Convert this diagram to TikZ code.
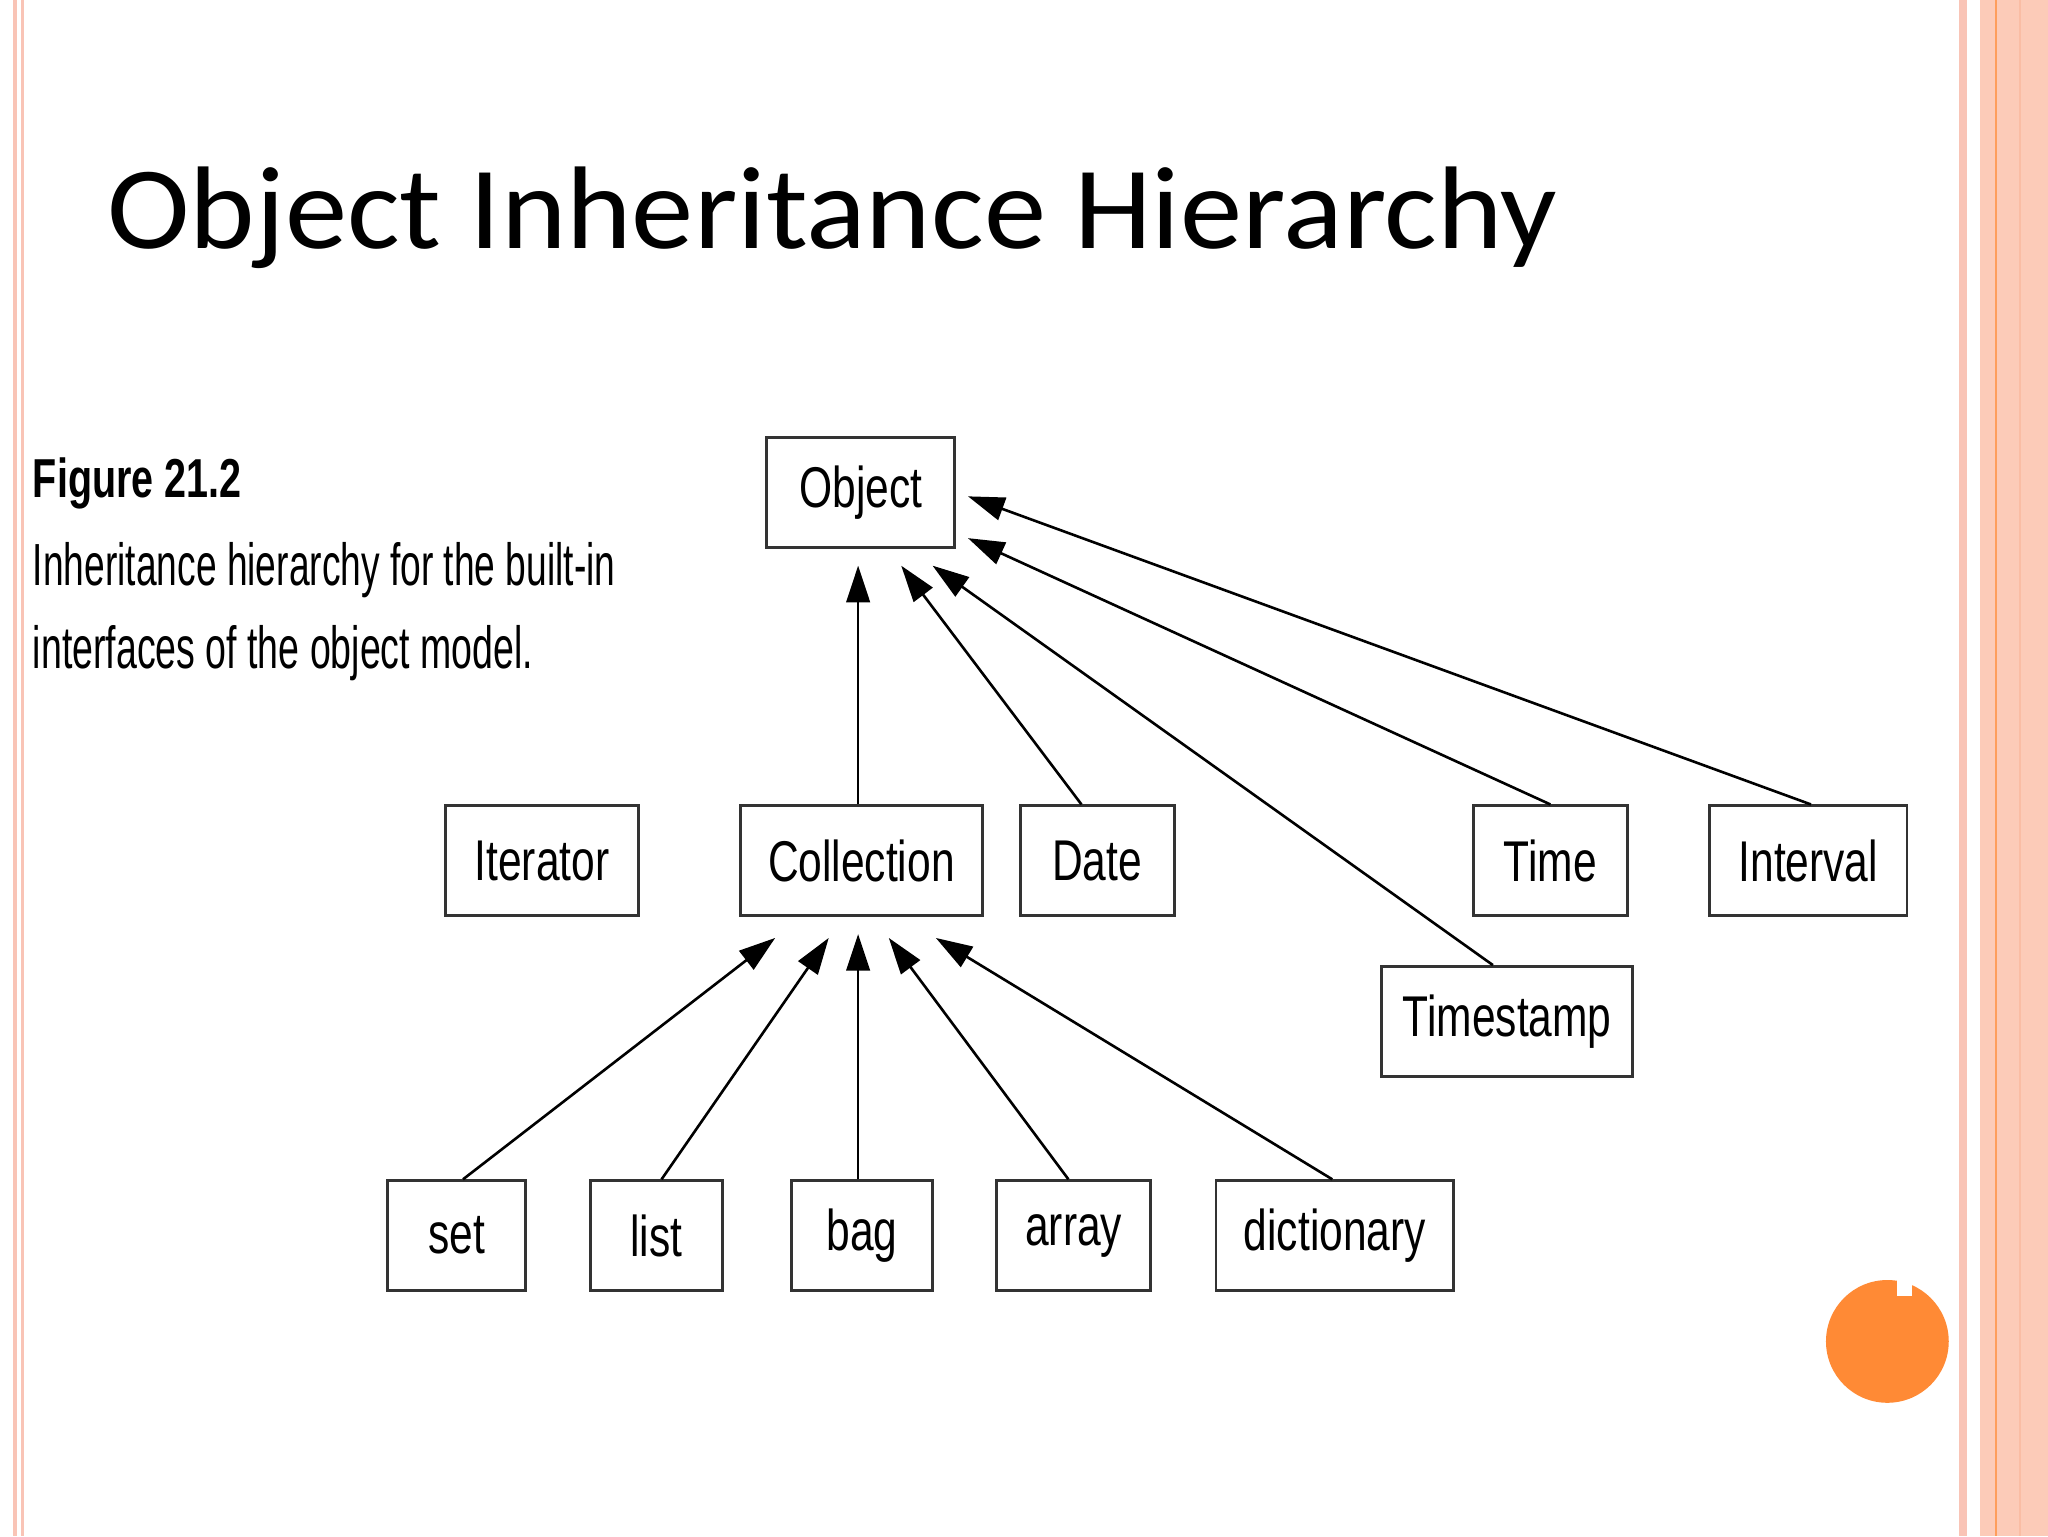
\documentclass[tikz,border=0pt]{standalone}
\usepackage{fontspec}
\setmainfont{Carlito}
\newfontfamily\hv{Liberation Sans}
\usetikzlibrary{arrows.meta}
\definecolor{pinkl}{HTML}{F9C4B6}
\definecolor{band}{HTML}{FCCBB8}
\definecolor{orng}{HTML}{FF8A35}
\tikzset{
 bx/.style={draw=black!80,line width=2.2pt,inner sep=0pt,fill=white},
 arr/.style={line width=2pt,-{Triangle[length=28pt,width=18pt]}},
}
\newcommand{\bt}[1]{\scalebox{0.74}[1]{\hv\fontsize{44}{48}\selectfont #1}}
\begin{document}
\begin{tikzpicture}[x=1pt,y=-1pt]
\useasboundingbox (0,0) rectangle (1568,1176);
\fill[white] (0,0) rectangle (1568,1176);
% borders
\fill[pinkl] (10,0) rectangle (13,1176);
\fill[pinkl] (16,0) rectangle (18,1176);
\fill[pinkl] (1500,0) rectangle (1506,1176);
\fill[band] (1516,0) rectangle (1568,1176);
\fill[orng!70!band] (1527.5,0) rectangle (1529,1176);
\fill[pinkl!90!orange] (1546,0) rectangle (1547,1176);
% orange circle
\fill[orng] (1445,1027) circle (47);
\fill[white] (1452,976) rectangle (1464,992);
% title
\node[anchor=base west,inner sep=0pt] (title) at (82,190) {\scalebox{1.06}[1]{\fontsize{90}{96}\selectfont Object Inheritance Hierarchy}};
% caption
\node[anchor=base west,inner sep=0pt] (cap1) at (25,381) {\scalebox{0.72}[1]{\hv\bfseries\fontsize{42}{46}\selectfont Figure 21.2}};
\node[anchor=base west,inner sep=0pt] (cap2) at (25,448) {\resizebox{446pt}{33pt}{\hv\fontsize{40}{44}\selectfont Inheritance hierarchy for the built-in}};
\node[anchor=base west,inner sep=0pt] (cap3) at (25,512) {\resizebox{383pt}{33pt}{\hv\fontsize{40}{44}\selectfont interfaces of the object model.}};
% boxes
\newcommand{\bxn}[6]{\node[bx,minimum width=#4-#2,minimum height=#5-#3] (#1) at ({(#2+#4)/2},{(#3+#5)/2}) {\bt{#6}};}
\bxn{obj}{587}{335}{731}{419}{Object}
\bxn{itr}{341}{617}{489}{701}{Iterator}
\bxn{col}{567}{617}{752}{701}{Collection}
\bxn{dat}{781}{617}{899}{701}{Date}
\bxn{tim}{1128}{617}{1246}{701}{Time}
\bxn{int}{1309}{617}{1460}{701}{Interval}
\bxn{tst}{1058}{740}{1250}{824}{Timestamp}
\bxn{set}{297}{904}{402}{988}{set}
\bxn{lst}{452}{904}{553}{988}{list}
\bxn{bag}{606}{904}{714}{988}{bag}
\bxn{ary}{763}{904}{881}{988}{array}
\bxn{dic}{931}{904}{1113}{988}{dictionary}
% arrows to Object
\draw[arr] ([xshift=-2.5pt]col.north) -- ([xshift=-2pt,yshift=-13pt]obj.south);
\draw[arr] ([xshift=-12pt]dat.north) -- ([xshift=31pt,yshift=-13pt]obj.south);
\draw[arr] ([xshift=-11pt]tst.north) -- ([xshift=55pt,yshift=-13pt]obj.south);
\draw[arr] ([xshift=0pt]tim.north) -- ([xshift=9pt,yshift=-35pt]obj.east);
\draw[arr] ([xshift=2pt]int.north) -- ([xshift=9pt,yshift=-3pt]obj.east);
% arrows to Collection
\draw[arr] ([xshift=5pt]set.north) -- ([xshift=-66pt,yshift=-16pt]col.south);
\draw[arr] ([xshift=4pt]lst.north) -- ([xshift=-25pt,yshift=-16pt]col.south);
\draw[arr] ([xshift=-3pt]bag.north) -- ([xshift=-2.5pt,yshift=-13pt]col.south);
\draw[arr] ([xshift=-4pt]ary.north) -- ([xshift=21pt,yshift=-16pt]col.south);
\draw[arr] ([xshift=-2pt]dic.north) -- ([xshift=57pt,yshift=-16pt]col.south);
\end{tikzpicture}
\end{document}
